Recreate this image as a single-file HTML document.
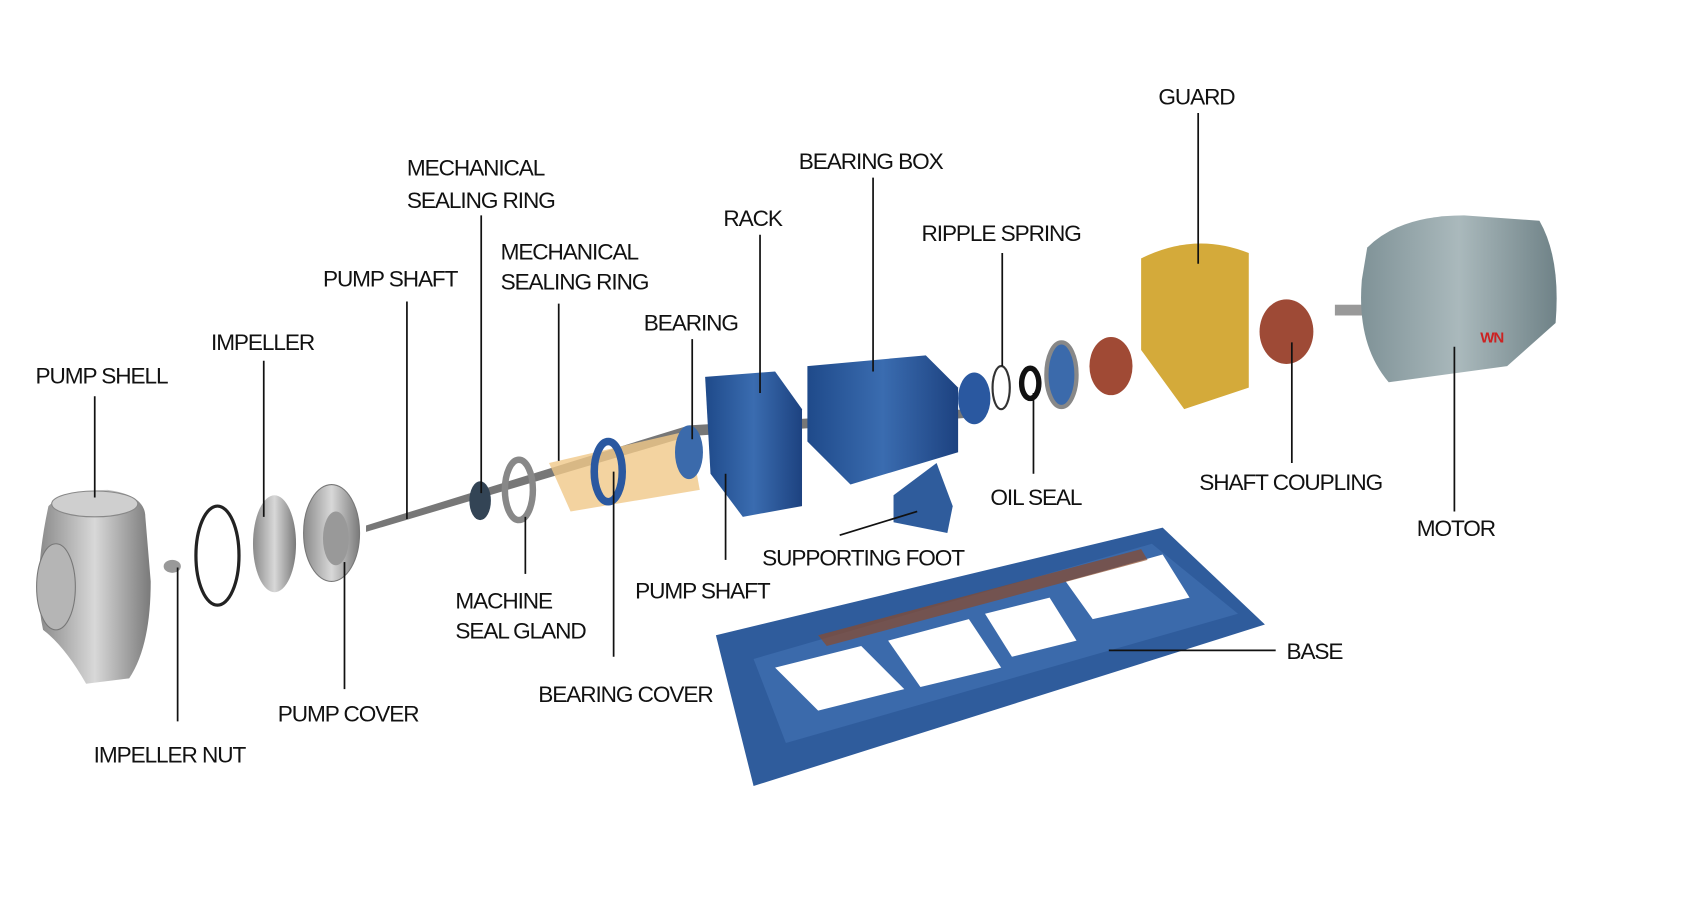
<!DOCTYPE html>
<html><head><meta charset="utf-8"><style>
html,body{margin:0;padding:0;background:#fff;}
svg{display:block}
text{font-family:"Liberation Sans Narrow","Liberation Sans",sans-serif;font-size:21px;fill:#111;letter-spacing:-1px}
line{stroke:#111;stroke-width:1.6}
</style></head><body>
<svg width="1688" height="912" viewBox="0 0 1568 847" preserveAspectRatio="none" xmlns="http://www.w3.org/2000/svg">
<defs>
<linearGradient id="st" x1="0" x2="1"><stop offset="0" stop-color="#8a8a8a"/><stop offset="0.5" stop-color="#d8d8d8"/><stop offset="1" stop-color="#7a7a7a"/></linearGradient>
<linearGradient id="bl" x1="0" x2="1"><stop offset="0" stop-color="#1f4a8a"/><stop offset="0.5" stop-color="#3a6cb0"/><stop offset="1" stop-color="#1d4280"/></linearGradient>
<linearGradient id="mo" x1="0" x2="1"><stop offset="0" stop-color="#7f9297"/><stop offset="0.5" stop-color="#aab9bc"/><stop offset="1" stop-color="#6f8287"/></linearGradient>
</defs>
<polygon points="665,590 1080,490 1175,580 700,730" fill="#2f5c9c"/>
<polygon points="700,612 1070,505 1150,570 730,690" fill="#3b6aab"/>
<polygon points="720,620 800,600 840,640 760,660" fill="#fff"/>
<polygon points="825,595 900,575 930,620 855,638" fill="#fff"/>
<polygon points="915,570 975,555 1000,595 940,610" fill="#fff"/>
<polygon points="990,540 1080,515 1105,555 1015,575" fill="#fff"/>
<polygon points="760,590 1060,510 1066,520 768,600" fill="#8b4a2a" opacity="0.7"/>
<path d="M45,470 Q60,455 100,455 Q135,460 135,480 L140,540 Q140,600 120,630 L80,635 Q60,600 40,585 Q30,540 45,470Z" fill="url(#st)"/>
<ellipse cx="52" cy="545" rx="18" ry="40" fill="#b5b5b5" stroke="#777"/>
<ellipse cx="88" cy="468" rx="40" ry="12" fill="#cfcfcf" stroke="#888"/>
<ellipse cx="160" cy="526" rx="8" ry="6" fill="#999"/>
<ellipse cx="202" cy="516" rx="20" ry="46" fill="none" stroke="#222" stroke-width="3"/>
<ellipse cx="255" cy="505" rx="20" ry="45" fill="url(#st)"/>
<ellipse cx="308" cy="495" rx="26" ry="45" fill="url(#st)" stroke="#777"/>
<ellipse cx="312" cy="500" rx="12" ry="25" fill="#999"/>
<polygon points="340,488 640,395 900,380 900,388 640,405 340,494" fill="#777"/>
<ellipse cx="446" cy="465" rx="10" ry="18" fill="#345" />
<ellipse cx="482" cy="455" rx="13" ry="28" fill="none" stroke="#888" stroke-width="6"/>
<polygon points="510,430 640,400 650,455 530,475" fill="#f0c888" opacity="0.8"/>
<ellipse cx="565" cy="438" rx="13" ry="28" fill="none" stroke="#2a58a0" stroke-width="7"/>
<ellipse cx="640" cy="420" rx="13" ry="25" fill="#3b6aab"/>
<path d="M655,350 L720,345 L745,380 L745,470 L690,480 L660,440Z" fill="url(#bl)"/>
<path d="M750,340 L860,330 L890,360 L890,420 L790,450 L750,410Z" fill="url(#bl)"/>
<ellipse cx="905" cy="370" rx="15" ry="24" fill="#2a58a0"/>
<ellipse cx="930" cy="360" rx="8" ry="20" fill="none" stroke="#333" stroke-width="2"/>
<ellipse cx="957" cy="356" rx="8" ry="14" fill="none" stroke="#111" stroke-width="5"/>
<ellipse cx="986" cy="348" rx="14" ry="30" fill="#3b6aab" stroke="#888" stroke-width="4"/>
<ellipse cx="1032" cy="340" rx="20" ry="27" fill="#a04a35"/>
<polygon points="830,460 870,430 885,470 880,495 830,485" fill="#2f5c9c"/>
<path d="M1060,240 Q1110,215 1160,235 L1160,360 L1100,380 L1060,325Z" fill="#d4aa3a"/>
<ellipse cx="1195" cy="308" rx="25" ry="30" fill="#9e4a36"/>
<rect x="1240" y="283" width="30" height="10" fill="#999"/>
<path d="M1270,230 Q1300,200 1360,200 L1430,205 Q1450,240 1445,300 L1400,340 L1290,355 Q1260,320 1265,260Z" fill="url(#mo)"/>
<text x="1375" y="318" style="fill:#c22;font-size:14px;font-weight:bold">WN</text>
<line x1="88" y1="368" x2="88" y2="462"/>
<line x1="245" y1="335" x2="245" y2="480"/>
<line x1="378" y1="280" x2="378" y2="482"/>
<line x1="447" y1="200" x2="447" y2="458"/>
<line x1="519" y1="282" x2="519" y2="428"/>
<line x1="643" y1="315" x2="643" y2="408"/>
<line x1="706" y1="218" x2="706" y2="365"/>
<line x1="811" y1="165" x2="811" y2="345"/>
<line x1="931" y1="235" x2="931" y2="340"/>
<line x1="1113" y1="105" x2="1113" y2="245"/>
<line x1="960" y1="440" x2="960" y2="365"/>
<line x1="1200" y1="430" x2="1200" y2="318"/>
<line x1="1351" y1="475" x2="1351" y2="322"/>
<line x1="780" y1="497" x2="852" y2="475"/>
<line x1="674" y1="520" x2="674" y2="440"/>
<line x1="488" y1="533" x2="488" y2="480"/>
<line x1="570" y1="610" x2="570" y2="438"/>
<line x1="320" y1="640" x2="320" y2="522"/>
<line x1="165" y1="670" x2="165" y2="527"/>
<line x1="1030" y1="604" x2="1185" y2="604"/>
<text x="33" y="356">PUMP SHELL</text>
<text x="196" y="325">IMPELLER</text>
<text x="300" y="266">PUMP SHAFT</text>
<text x="378" y="163">MECHANICAL</text>
<text x="378" y="193">SEALING RING</text>
<text x="465" y="241">MECHANICAL</text>
<text x="465" y="269">SEALING RING</text>
<text x="598" y="307">BEARING</text>
<text x="672" y="210">RACK</text>
<text x="742" y="157">BEARING BOX</text>
<text x="856" y="224">RIPPLE SPRING</text>
<text x="1076" y="97">GUARD</text>
<text x="920" y="469">OIL SEAL</text>
<text x="1114" y="455">SHAFT COUPLING</text>
<text x="1316" y="498">MOTOR</text>
<text x="708" y="525">SUPPORTING FOOT</text>
<text x="590" y="556">PUMP SHAFT</text>
<text x="423" y="565">MACHINE</text>
<text x="423" y="593">SEAL GLAND</text>
<text x="500" y="652">BEARING COVER</text>
<text x="258" y="670">PUMP COVER</text>
<text x="87" y="708">IMPELLER NUT</text>
<text x="1195" y="612">BASE</text>
</svg>
</body></html>
